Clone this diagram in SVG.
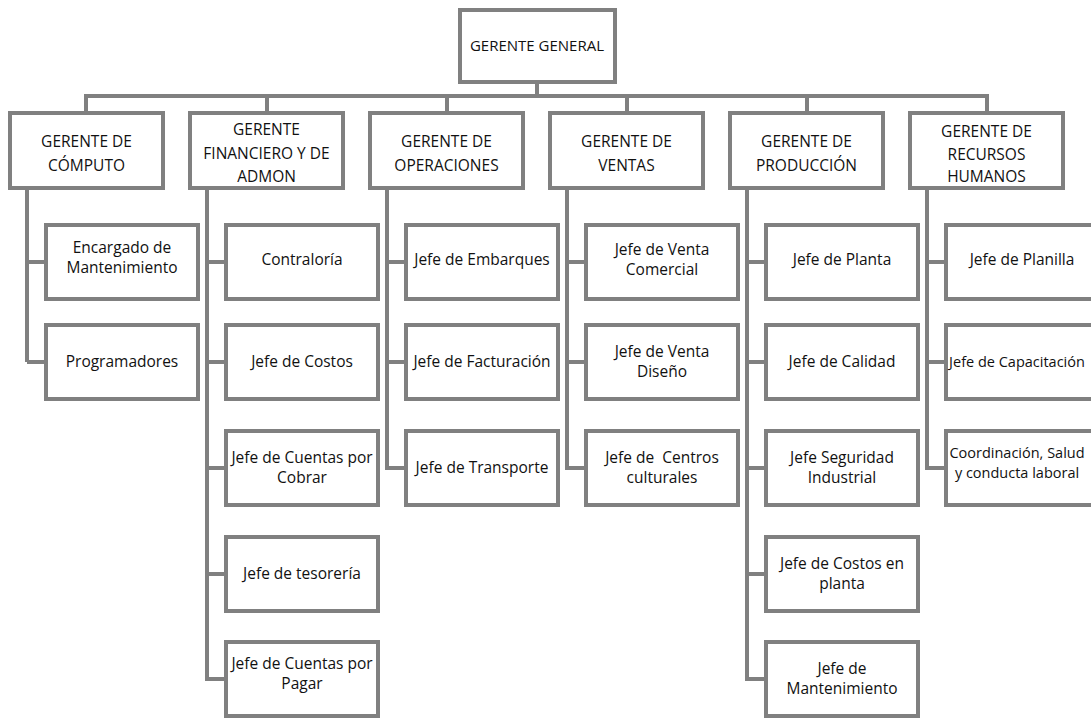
<svg xmlns="http://www.w3.org/2000/svg" width="1091" height="719" viewBox="0 0 1091 719">
<style>
  .box { fill: #ffffff; stroke: #808080; stroke-width: 4; }
  .ln { fill: none; stroke: #808080; stroke-width: 4; stroke-linejoin: miter; }
  text { font-family: "Open Sans", "Liberation Sans", sans-serif; font-size: 15.5px; fill: #111111; text-anchor: middle; }
  .gg { font-size: 15px; }
  .edge { font-size: 14.5px; }
</style>
<rect width="1091" height="719" fill="#ffffff"/>
<g id="connectors">
  <path class="ln" d="M537 82 V96 M86 113 V96 H987 V113 M267 96 V113 M447 96 V113 M627 96 V113 M807 96 V113"/>
  <path class="ln" d="M27 188 V362 M27 262 H46 M27 362 H46"/>
  <path class="ln" d="M207 188 V679 H226 M207 262 H226 M207 362 H226 M207 468 H226 M207 574 H226"/>
  <path class="ln" d="M387 188 V468 H406 M387 262 H406 M387 362 H406"/>
  <path class="ln" d="M567 188 V468 H586 M567 262 H586 M567 362 H586"/>
  <path class="ln" d="M747 188 V679 H766 M747 262 H766 M747 362 H766 M747 468 H766 M747 574 H766"/>
  <path class="ln" d="M927 188 V468 H946 M927 262 H946 M927 362 H946"/>
</g>
<g id="gerente-general"><rect class="box" x="460" y="10" width="155" height="72"/><text class="gg" x="537" y="51">GERENTE GENERAL</text></g>

<g id="g-computo"><rect class="box" x="10" y="113" width="153" height="75"/><text x="86.5" y="147">GERENTE DE</text><text x="86.5" y="171">CÓMPUTO</text></g>
<g id="g-financiero"><rect class="box" x="190" y="113" width="153" height="75"/><text x="266.5" y="135">GERENTE</text><text x="266.5" y="159">FINANCIERO Y DE</text><text x="266.5" y="182">ADMON</text></g>
<g id="g-operaciones"><rect class="box" x="370" y="113" width="153" height="75"/><text x="446.5" y="147">GERENTE DE</text><text x="446.5" y="171">OPERACIONES</text></g>
<g id="g-ventas"><rect class="box" x="550" y="113" width="153" height="75"/><text x="626.5" y="147">GERENTE DE</text><text x="626.5" y="171">VENTAS</text></g>
<g id="g-produccion"><rect class="box" x="730" y="113" width="153" height="75"/><text x="806.5" y="147">GERENTE DE</text><text x="806.5" y="171">PRODUCCIÓN</text></g>
<g id="g-rrhh"><rect class="box" x="910" y="113" width="153" height="75"/><text x="986.5" y="137">GERENTE DE</text><text x="986.5" y="160">RECURSOS</text><text x="986.5" y="182">HUMANOS</text></g>

<g id="c0-1"><rect class="box" x="46" y="225" width="152" height="74"/><text x="122" y="253">Encargado de</text><text x="122" y="273">Mantenimiento</text></g>
<g id="c0-2"><rect class="box" x="46" y="325" width="152" height="74"/><text x="122" y="367">Programadores</text></g>

<g id="c1-1"><rect class="box" x="226" y="225" width="152" height="74"/><text x="302" y="265">Contraloría</text></g>
<g id="c1-2"><rect class="box" x="226" y="325" width="152" height="74"/><text x="302" y="367">Jefe de Costos</text></g>
<g id="c1-3"><rect class="box" x="226" y="431" width="152" height="74"/><text x="302" y="463">Jefe de Cuentas por</text><text x="302" y="483">Cobrar</text></g>
<g id="c1-4"><rect class="box" x="226" y="537" width="152" height="74"/><text x="302" y="579">Jefe de tesorería</text></g>
<g id="c1-5"><rect class="box" x="226" y="642" width="152" height="74"/><text x="302" y="669">Jefe de Cuentas por</text><text x="302" y="689">Pagar</text></g>

<g id="c2-1"><rect class="box" x="406" y="225" width="152" height="74"/><text x="482" y="265">Jefe de Embarques</text></g>
<g id="c2-2"><rect class="box" x="406" y="325" width="152" height="74"/><text x="482" y="367">Jefe de Facturación</text></g>
<g id="c2-3"><rect class="box" x="406" y="431" width="152" height="74"/><text x="482" y="473">Jefe de Transporte</text></g>

<g id="c3-1"><rect class="box" x="586" y="225" width="152" height="74"/><text x="662" y="255">Jefe de Venta</text><text x="662" y="275">Comercial</text></g>
<g id="c3-2"><rect class="box" x="586" y="325" width="152" height="74"/><text x="662" y="357">Jefe de Venta</text><text x="662" y="377">Diseño</text></g>
<g id="c3-3"><rect class="box" x="586" y="431" width="152" height="74"/><text x="662" y="463" xml:space="preserve">Jefe de  Centros</text><text x="662" y="483">culturales</text></g>

<g id="c4-1"><rect class="box" x="766" y="225" width="152" height="74"/><text x="842" y="265">Jefe de Planta</text></g>
<g id="c4-2"><rect class="box" x="766" y="325" width="152" height="74"/><text x="842" y="367">Jefe de Calidad</text></g>
<g id="c4-3"><rect class="box" x="766" y="431" width="152" height="74"/><text x="842" y="463">Jefe Seguridad</text><text x="842" y="483">Industrial</text></g>
<g id="c4-4"><rect class="box" x="766" y="537" width="152" height="74"/><text x="842" y="569">Jefe de Costos en</text><text x="842" y="589">planta</text></g>
<g id="c4-5"><rect class="box" x="766" y="642" width="152" height="74"/><text x="842" y="674">Jefe de</text><text x="842" y="694">Mantenimiento</text></g>

<g id="c5-1"><rect class="box" x="946" y="225" width="152" height="74"/><text x="1022" y="265">Jefe de Planilla</text></g>
<g id="c5-2"><rect class="box" x="946" y="325" width="152" height="74"/><text class="edge" x="1017" y="367">Jefe de Capacitación</text></g>
<g id="c5-3"><rect class="box" x="946" y="431" width="152" height="74"/><text class="edge" x="1017" y="458">Coordinación, Salud</text><text class="edge" x="1017" y="478">y conducta laboral</text></g>
</svg>
